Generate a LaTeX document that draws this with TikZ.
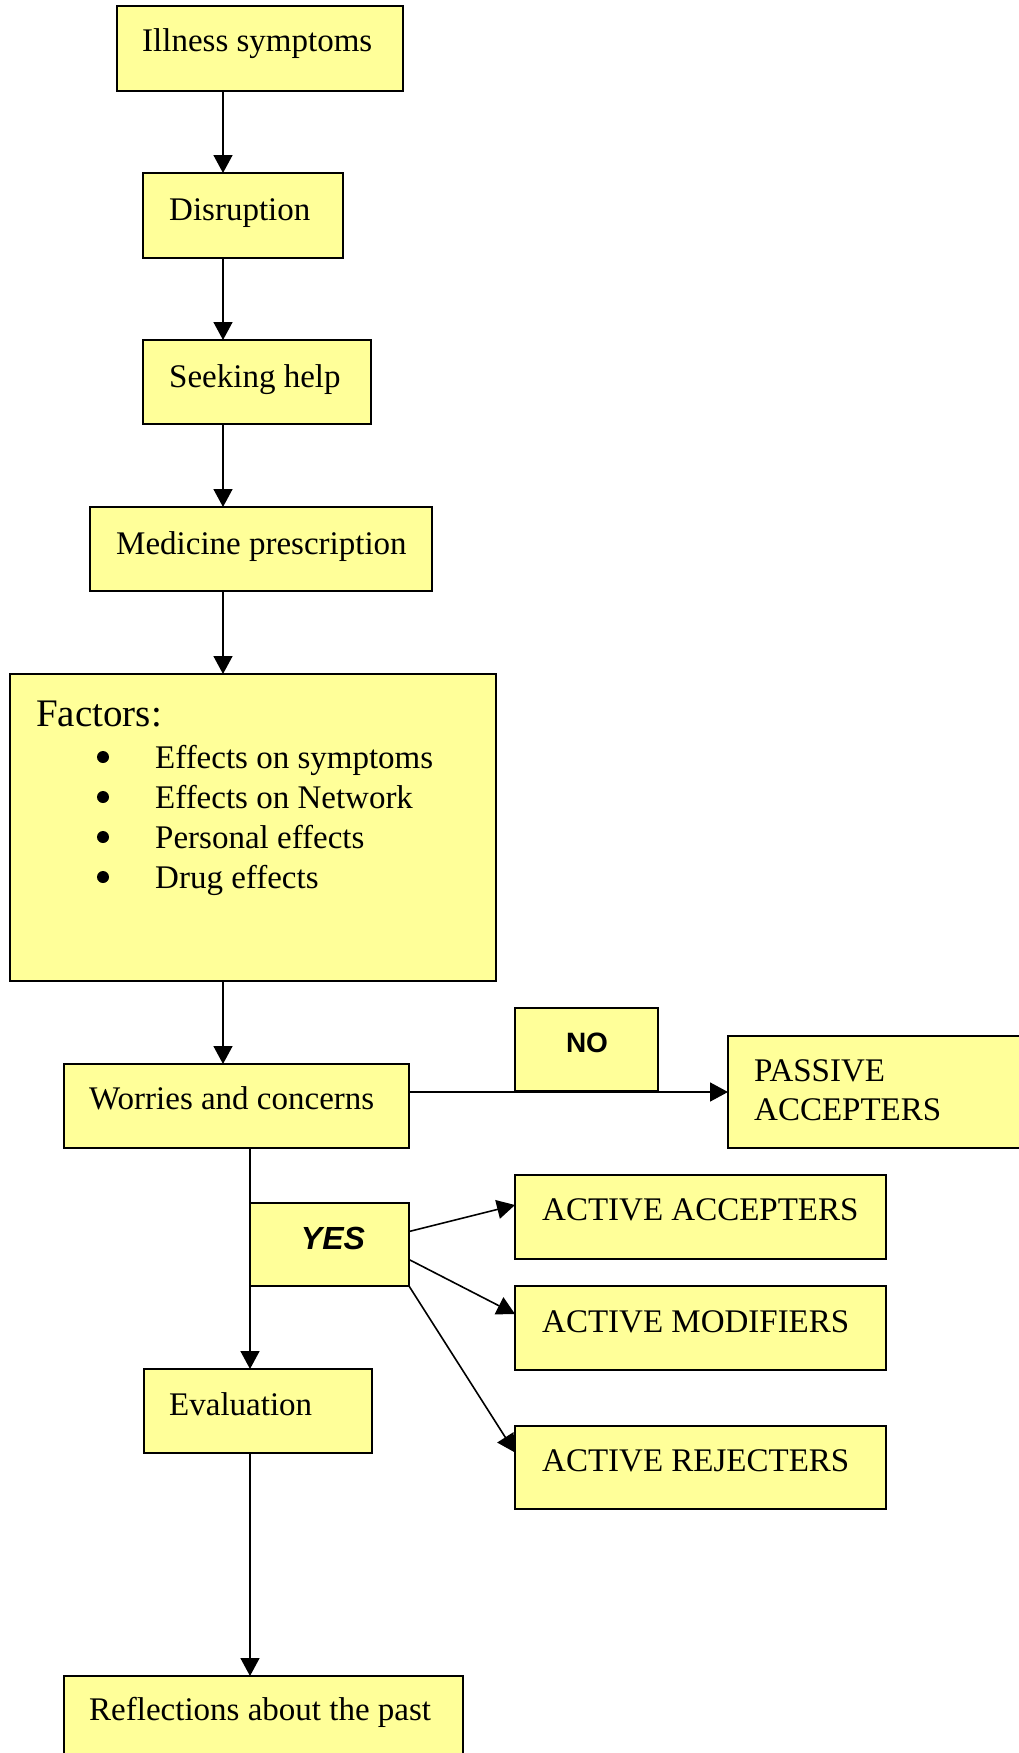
\documentclass[tikz,border=0pt]{standalone}
\usepackage{fontspec}
\setmainfont{Liberation Serif}
\newfontfamily\labelsans{Liberation Sans}
\usetikzlibrary{arrows.meta}
\definecolor{boxfill}{HTML}{FFFF99}
% flow box: name, left, top, right, bottom (y grows downwards)
\newcommand\flowbox[5]{%
  \node[box, minimum width={#4-#2}, minimum height={#5-#3}] (#1)
    at ({(#2+#4)/2},{(#3+#5)/2}) {};}
\begin{document}
\begin{tikzpicture}[x=1pt,y=-1pt,
  box/.style={draw=black, fill=boxfill, line width=1.6pt, inner sep=0pt, outer sep=0pt},
  txt/.style={anchor=base west, inner sep=0pt, yshift=-2pt, font=\fontsize{33}{40}\selectfont},
  bigtxt/.style={anchor=base west, inner sep=0pt, yshift=-2pt, font=\fontsize{39}{46}\selectfont},
  bul/.style={circle, fill=black, inner sep=0pt, minimum size=12pt},
  answer/.style={anchor=base, inner sep=0pt, yshift=-2pt, font=\labelsans\bfseries\fontsize{#1}{#1}\selectfont},
  arr/.style={line width=1.6pt, -{Triangle[width=19pt,length=18pt]}}]
\useasboundingbox (0,0) rectangle (1019,1753);

% boxes
\flowbox{illness}{117}{6}{403}{91}
\flowbox{disruption}{143}{173}{343}{258}
\flowbox{seeking}{143}{340}{371}{424}
\flowbox{medicine}{90}{507}{432}{591}
\flowbox{factors}{10}{674}{496}{981}
\flowbox{worries}{64}{1064}{409}{1148}
\flowbox{no}{515}{1008}{658}{1091}
\flowbox{passive}{728}{1036}{1030}{1148}
\flowbox{yes}{250}{1203}{409}{1286}
\flowbox{aa}{515}{1175}{886}{1259}
\flowbox{am}{515}{1286}{886}{1370}
\flowbox{ar}{515}{1426}{886}{1509}
\flowbox{evaluation}{144}{1369}{372}{1453}
\flowbox{reflections}{64}{1676}{463}{1770}

% box texts
\node[txt] (illness-t) at (142,50) {Illness symptoms};
\node[txt] (disruption-t) at (169,218) {Disruption};
\node[txt] (seeking-t) at (169,385) {Seeking help};
\node[txt] (medicine-t) at (116,552) {Medicine prescription};
\node[bigtxt] (factors-t) at (36,724) {Factors:};
\node[bul] (b1) at (103,757) {};
\node[bul] (b2) at (103,797) {};
\node[bul] (b3) at (103,837) {};
\node[bul] (b4) at (103,877) {};
\node[txt] (f1) at (155,766) {Effects on symptoms};
\node[txt] (f2) at (155,806) {Effects on Network};
\node[txt] (f3) at (155,846) {Personal effects};
\node[txt] (f4) at (155,886) {Drug effects};
\node[txt] (worries-t) at (89,1107) {Worries and concerns};
\node[answer=28] (no-t) at (587,1050) {NO};
\node[txt] (passive-t1) at (754,1079) {PASSIVE};
\node[txt] (passive-t2) at (754,1118) {ACCEPTERS};
\node[answer=32] (yes-t) at (333,1247) {\itshape YES};
\node[txt] (aa-t) at (542,1218) {ACTIVE ACCEPTERS};
\node[txt] (am-t) at (542,1330) {ACTIVE MODIFIERS};
\node[txt] (ar-t) at (542,1469) {ACTIVE REJECTERS};
\node[txt] (evaluation-t) at (169,1413) {Evaluation};
\node[txt] (reflections-t) at (89,1718) {Reflections about the past};

% connectors
\coordinate (spineA) at (223,0);
\coordinate (spineB) at (250,0);
\coordinate (nolevel) at (0,1092);
\draw[arr] (illness.south -| spineA) -- (disruption.north -| spineA);
\draw[arr] (disruption.south -| spineA) -- (seeking.north -| spineA);
\draw[arr] (seeking.south -| spineA) -- (medicine.north -| spineA);
\draw[arr] (medicine.south -| spineA) -- (factors.north -| spineA);
\draw[arr] (factors.south -| spineA) -- (worries.north -| spineA);
\draw[arr] (worries.east |- nolevel) -- (passive.west |- nolevel);
\draw[arr] (worries.south -| spineB) -- (evaluation.north -| spineB);
\draw[arr] (evaluation.south -| spineB) -- (reflections.north -| spineB);
\draw[arr] ([yshift=13pt]yes.east) -- ([yshift=12pt]aa.west);
\draw[arr] ([yshift=-15pt]yes.east) -- ([yshift=14pt]am.west);
\draw[arr] (yes.south east) -- ([yshift=15pt]ar.west);
\end{tikzpicture}
\end{document}
